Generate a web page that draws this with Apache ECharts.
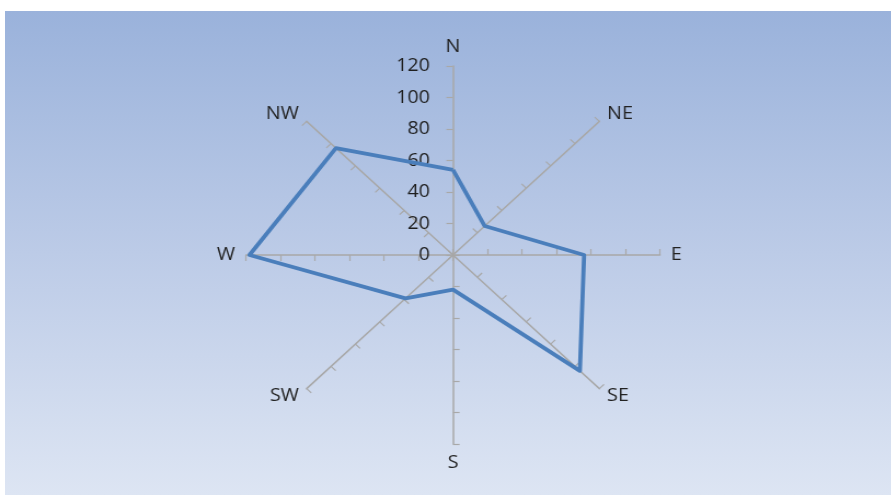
<!DOCTYPE html>
<html>
<head>
<meta charset="utf-8">
<script src="https://cdn.jsdelivr.net/npm/echarts@6/dist/echarts.min.js"></script>
<style>
  html, body { margin: 0; padding: 0; background: #ffffff; }
  #frame {
    position: absolute; left: 5px; top: 11px; width: 886px; height: 484px;
    background: linear-gradient(to bottom, #9ab2db 0%, #bccbe7 50%, #dde5f3 100%);
  }
  /* the rose is drawn in a narrower box and stretched sideways */
  #chart {
    position: absolute; left: 0; top: 0; width: 814.5px; height: 495px;
    transform: scaleX(1.0952); transform-origin: 0 0;
  }
</style>
</head>
<body>
<div id="frame"></div>
<div id="chart"></div>
<script>
// Compass directions, clockwise from north
const directions = ['N', 'NE', 'E', 'SE', 'S', 'SW', 'W', 'NW'];
// Value per direction
const values = [54, 26, 76, 104, 22, 39, 118, 96];
// Scale of the rose
const axisMax = 120;
const axisSplits = 6;

const stretch = 1.0952;

// The radar lays its indicators out counter-clockwise, so walk the compass backwards
const order = [0, 7, 6, 5, 4, 3, 2, 1];

const indicator = order.map(function (i) {
  const ind = { name: directions[i], max: axisMax, min: 0 };
  if (directions[i] === 'N') {
    ind.axisLabel = { show: true };
  }
  return ind;
});
const seriesValues = order.map(function (i) { return values[i]; });

const chart = echarts.init(document.getElementById('chart'), null, { renderer: 'canvas' });
chart.setOption({
  backgroundColor: 'transparent',
  animation: false,
  radar: {
    center: [453 / stretch, 255],
    radius: 189,
    startAngle: 90,
    splitNumber: axisSplits,
    indicator: indicator,
    axisName: {
      color: '#222222',
      fontFamily: 'Open Sans',
      fontSize: 18
    },
    nameGap: 10,
    axisLine: { show: true, lineStyle: { color: '#a8a8a8', width: 1.5 } },
    axisTick: { show: true, length: 6, lineStyle: { color: '#a8a8a8', width: 1.2 } },
    axisLabel: {
      show: false,
      color: '#1e1e1e',
      fontFamily: 'Open Sans',
      fontSize: 18,
      margin: 21
    },
    splitLine: { show: false },
    splitArea: { show: false }
  },
  series: [{
    type: 'radar',
    symbol: 'none',
    lineStyle: { color: '#4a7ebb', width: 3.8 },
    data: [{ value: seriesValues, name: 'Wind' }]
  }]
});
</script>
</body>
</html>
